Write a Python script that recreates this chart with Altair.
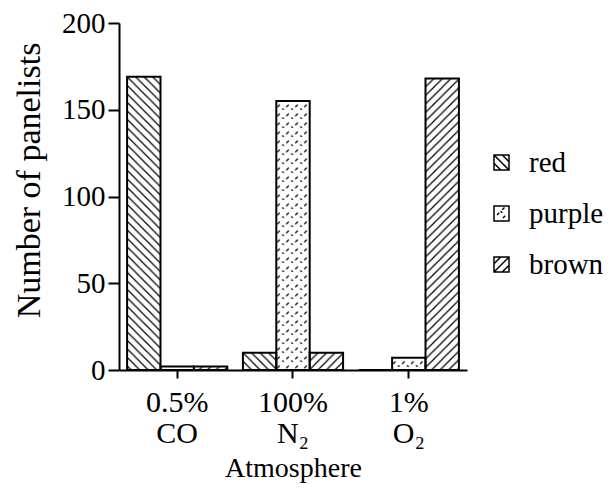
import base64
import altair as alt
import pandas as pd

# ---- data ----
concentrations = ["0.5%", "100%", "1%"]
gases = ["CO", "N₂", "O₂"]
colors = ["red", "purple", "brown"]
red_values = [169, 10, 0]
purple_values = [2, 155, 7]
brown_values = [2, 10, 168]
y_ticks = [0, 50, 100, 150, 200]

atmospheres = [f"{c}\n{g}" for c, g in zip(concentrations, gases)]
rows = []
for name, vals in zip(colors, [red_values, purple_values, brown_values]):
    for atm, v in zip(atmospheres, vals):
        rows.append({"Atmosphere": atm, "Color": name, "Panelists": v})
df = pd.DataFrame(rows)

FONT = "'Liberation Serif', 'Times New Roman', Tinos, 'DejaVu Serif', serif"


def hatch_url(path_d, size, width=1.2):
    svg = (
        '<svg xmlns="http://www.w3.org/2000/svg">'
        '<defs><pattern id="h" patternUnits="userSpaceOnUse" '
        f'width="{size}" height="{size}">'
        f'<rect width="{size}" height="{size}" fill="white"/>'
        f'<path d="{path_d}" stroke="black" stroke-width="{width}" fill="none"/>'
        '</pattern></defs>'
        '<rect width="100%" height="100%" fill="url(#h)"/></svg>'
    )
    return "data:image/svg+xml;base64," + base64.b64encode(svg.encode()).decode()


patterns = {
    "red": hatch_url("M0,0L8.5,8.5M-2,6.5L2,10.5M6.5,-2L10.5,2", 8.5),
    "purple": hatch_url("M1,6L3.5,3.5M6,7.5L7.5,9", 9, 1.3),
    "brown": hatch_url("M0,8.5L8.5,0M-2,2L2,-2M6.5,10.5L10.5,6.5", 8.5),
}

legend_paths = [
    "M-1,-1H1V1H-1ZM-1,-1L1,1M0.1,-1L1,-0.1M-1,0.1L-0.1,1",
    "M-1,-1H1V1H-1ZM-0.6,0.2L-0.3,-0.1M0.1,-0.5L0.4,-0.8M0.2,0.6L0.5,0.3M-0.1,-0.3L0.1,-0.1",
    "M-1,-1H1V1H-1ZM-1,1L1,-1M-1,-0.1L-0.1,-1M0.1,1L1,0.1",
]

x_enc = alt.X(
    "Atmosphere:N",
    sort=atmospheres,
    scale=alt.Scale(paddingInner=0.135, paddingOuter=0.07),
    axis=alt.Axis(
        title="Atmosphere",
        labelAngle=0,
        labelExpr="split(datum.label, '\\n')",
        labelLineHeight=31,
        labelFontSize=30,
        labelPadding=9,
        tickSize=8,
        tickWidth=2,
        domainWidth=2,
        titleFontSize=28,
        titlePadding=6,
    ),
)
xoff_enc = alt.XOffset(
    "Color:N", sort=colors, scale=alt.Scale(domain=colors, paddingInner=0, paddingOuter=0)
)
y_enc = alt.Y(
    "Panelists:Q",
    stack=None,
    scale=alt.Scale(domain=[0, 200]),
    axis=alt.Axis(
        title="Number of panelists",
        values=y_ticks,
        tickSize=11,
        tickWidth=2,
        domainWidth=2,
        labelPadding=3,
        labelFontSize=29,
        titleFontSize=34,
        titlePadding=15,
        titleY=157,
    ),
)

base = alt.Chart(df).encode(x=x_enc, xOffset=xoff_enc, y=y_enc)

image_layers = [
    base.transform_filter(alt.datum.Color == name).mark_image(url=patterns[name], aspect=False)
    for name in colors
]

outline = base.mark_bar(fill="transparent", stroke="black", strokeWidth=2)

legend_layer = base.mark_point(opacity=0).encode(
    shape=alt.Shape(
        "Color:N",
        sort=colors,
        scale=alt.Scale(domain=colors, range=legend_paths),
        legend=alt.Legend(
            title=None,
            orient="none",
            legendX=368,
            legendY=125,
            symbolSize=225,
            symbolStrokeColor="black",
            symbolFillColor="white",
            symbolStrokeWidth=1.5,
            symbolOpacity=1,
            labelFont=FONT,
            labelFontSize=29,
            labelColor="black",
            labelOffset=13,
            rowPadding=21,
            padding=0,
        ),
    )
)

chart = (
    alt.layer(*image_layers, outline, legend_layer)
    .properties(
        width=348,
        height=347,
        autosize=alt.AutoSizeParams(type="none"),
        padding={"left": 111, "top": 15, "right": 139, "bottom": 116},
    )
    .configure_view(stroke=None)
    .configure_axis(
        grid=False,
        labelFont=FONT,
        titleFont=FONT,
        labelColor="black",
        titleColor="black",
        domainColor="black",
        tickColor="black",
        titleFontWeight="normal",
    )
    .configure_legend(labelFont=FONT)
)

chart.save("out.html", embed_options={"renderer": "svg", "actions": False})
